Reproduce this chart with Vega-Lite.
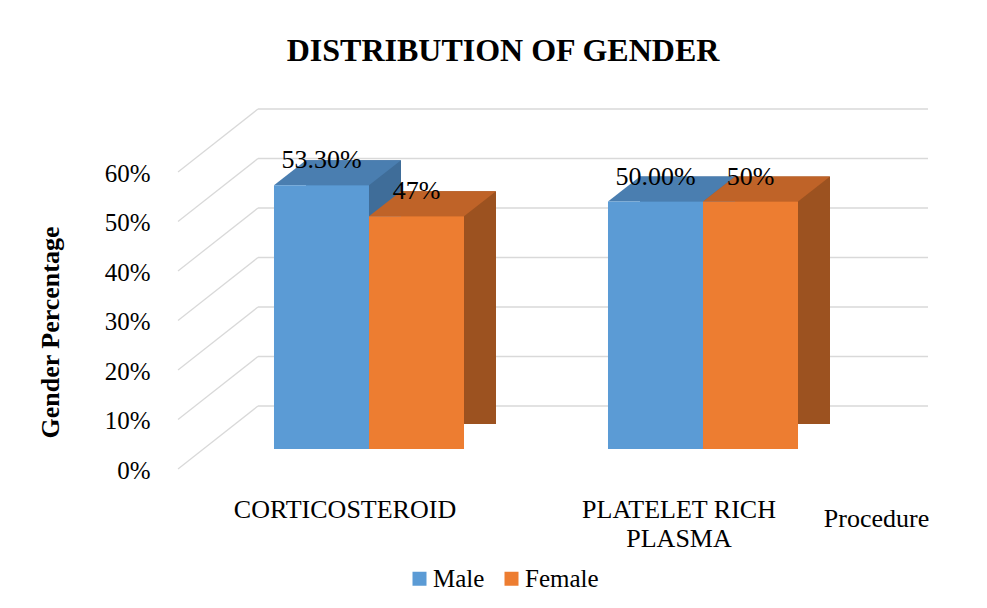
{
  "$schema": "https://vega.github.io/schema/vega-lite/v6.json",
  "width": 716,
  "height": 297,
  "autosize": {"type": "none"},
  "padding": {"left": 178, "top": 152, "right": 93, "bottom": 159},
  "background": "white",
  "title": {"text": "DISTRIBUTION OF GENDER", "font": "Liberation Serif", "fontSize": 32, "fontWeight": "bold", "color": "#000000", "anchor": "middle", "frame": "group", "dx": -33, "offset": 15, "baseline": "alphabetic"},
  "config": {"view": {"stroke": null}, "font": "Liberation Serif"},
  "datasets": {
    "bars": [
      {"procedure": "CORTICOSTEROID", "gender": "Male", "value": 0.533, "label": "53.30%"},
      {"procedure": "CORTICOSTEROID", "gender": "Female", "value": 0.47, "label": "47%"},
      {"procedure": "PLATELET RICH PLASMA", "gender": "Male", "value": 0.5, "label": "50.00%"},
      {"procedure": "PLATELET RICH PLASMA", "gender": "Female", "value": 0.5, "label": "50%"}
    ],
    "grid": [{"value": 0}, {"value": 0.1}, {"value": 0.2}, {"value": 0.3}, {"value": 0.4}, {"value": 0.5}, {"value": 0.6}]
  },
  "resolve": {"scale": {"x": "independent"}},
  "layer": [
    {
      "data": {"name": "grid"},
      "layer": [
        {
          "mark": {"type": "rule", "color": "#d9d9d9", "strokeWidth": 1.3, "yOffset": -43},
          "encoding": {
            "x": {"datum": 0.1117, "type": "quantitative", "scale": {"domain": [0, 1]}, "axis": null},
            "x2": {"datum": 1.0475},
            "y": {"field": "value", "type": "quantitative", "scale": {"domain": [0, 0.6], "nice": false}}
          }
        },
        {
          "mark": {"type": "rule", "color": "#d9d9d9", "strokeWidth": 1.3, "yOffset": 20, "y2Offset": -43},
          "encoding": {
            "x": {"datum": 0, "type": "quantitative", "scale": {"domain": [0, 1]}, "axis": null},
            "x2": {"datum": 0.1117},
            "y": {"field": "value", "type": "quantitative"},
            "y2": {"field": "value"}
          }
        }
      ]
    },
    {
      "data": {"name": "bars"},
      "layer": [
        {
          "transform": [{"filter": "datum.gender === 'Male'"}],
          "mark": {"type": "bar", "color": "#3f6d99", "width": 95, "xOffset": -15.5, "yOffset": -25, "y2Offset": -25},
          "encoding": {
            "x": {"field": "procedure", "type": "nominal", "scale": {"paddingInner": 0.4311, "paddingOuter": 0.2874}},
            "y": {"field": "value", "type": "quantitative"}
          }
        },
        {
          "transform": [{"filter": "datum.gender === 'Female'"}],
          "mark": {"type": "bar", "color": "#9c5220", "width": 95, "xOffset": 79.5, "yOffset": -25, "y2Offset": -25},
          "encoding": {
            "x": {"field": "procedure", "type": "nominal"},
            "y": {"field": "value", "type": "quantitative"}
          }
        },
        {
          "transform": [{"filter": "datum.gender === 'Male'"}],
          "mark": {"type": "point", "shape": "M-0.9922,0.1953L0.4922,0.1953L0.9922,-0.1953L-0.4922,-0.1953Z", "size": 16384, "filled": true, "opacity": 1, "strokeWidth": 0, "color": "#4a7eb0", "xOffset": -31.5, "yOffset": -12.5},
          "encoding": {
            "x": {"field": "procedure", "type": "nominal"},
            "y": {"field": "value", "type": "quantitative"}
          }
        },
        {
          "transform": [{"filter": "datum.gender === 'Female'"}],
          "mark": {"type": "point", "shape": "M-0.9922,0.1953L0.4922,0.1953L0.9922,-0.1953L-0.4922,-0.1953Z", "size": 16384, "filled": true, "opacity": 1, "strokeWidth": 0, "color": "#bf6328", "xOffset": 63.5, "yOffset": -12.5},
          "encoding": {
            "x": {"field": "procedure", "type": "nominal"},
            "y": {"field": "value", "type": "quantitative"}
          }
        },
        {
          "transform": [{"filter": "datum.gender === 'Female'"}],
          "mark": {"type": "point", "shape": "M-1,-0.78125L1,-0.78125L-1,0.78125Z", "size": 1024, "filled": true, "opacity": 1, "strokeWidth": 0, "color": "#9c5220", "xOffset": 63.5, "yOffset": -12.5},
          "encoding": {
            "x": {"field": "procedure", "type": "nominal"},
            "y": {"datum": 0, "type": "quantitative"}
          }
        },
        {
          "mark": {"type": "bar"},
          "encoding": {
            "x": {
              "field": "procedure", "type": "nominal",
              "axis": {
                "title": "Procedure", "labelAngle": 0, "domain": false, "ticks": false,
                "labelExpr": "datum.value === 'PLATELET RICH PLASMA' ? ['PLATELET RICH', 'PLASMA'] : datum.value",
                "labelFont": "Liberation Serif", "labelFontSize": 26, "labelColor": "#000000", "labelLineHeight": 29,
                "labelLimit": 500, "labelAlign": "center",
                "labelOffset": -24, "labelPadding": 68, "labelBaseline": "alphabetic",
                "titleFont": "Liberation Serif", "titleFontSize": 26, "titleFontWeight": "normal", "titleColor": "#000000",
                "titleX": 698, "titleY": 77, "titleAlign": "center", "titleBaseline": "alphabetic"
              }
            },
            "xOffset": {"field": "gender", "type": "nominal", "sort": ["Male", "Female"], "scale": {"paddingInner": 0, "paddingOuter": 0}},
            "y": {
              "field": "value", "type": "quantitative",
              "axis": {
                "title": "Gender Percentage", "format": ".0%", "values": [0, 0.1, 0.2, 0.3, 0.4, 0.5, 0.6],
                "domain": false, "ticks": false, "grid": false,
                "labelFont": "Liberation Serif", "labelFontSize": 25, "labelColor": "#000000", "labelOffset": 21, "labelPadding": 28,
                "titleFont": "Liberation Serif", "titleFontSize": 26, "titleFontWeight": "bold", "titleColor": "#000000",
                "titleX": -128, "titleY": 180, "titleAlign": "center", "titleBaseline": "middle"
              }
            },
            "color": {
              "field": "gender", "type": "nominal",
              "scale": {"domain": ["Male", "Female"], "range": ["#5b9bd5", "#ed7d31"]},
              "legend": {
                "title": null, "orient": "none", "legendX": 229, "legendY": 414, "direction": "horizontal",
                "symbolType": "square", "symbolSize": 196, "symbolStrokeWidth": 0,
                "labelFont": "Liberation Serif", "labelFontSize": 25, "labelColor": "#000000", "labelOffset": 1, "columnPadding": 14
              }
            }
          }
        },
        {
          "mark": {"type": "text", "font": "Liberation Serif", "fontSize": 26, "color": "#000000", "baseline": "alphabetic", "dy": -17},
          "encoding": {
            "x": {"field": "procedure", "type": "nominal"},
            "xOffset": {"field": "gender", "type": "nominal", "sort": ["Male", "Female"]},
            "y": {"field": "value", "type": "quantitative"},
            "text": {"field": "label"}
          }
        }
      ]
    }
  ]
}
